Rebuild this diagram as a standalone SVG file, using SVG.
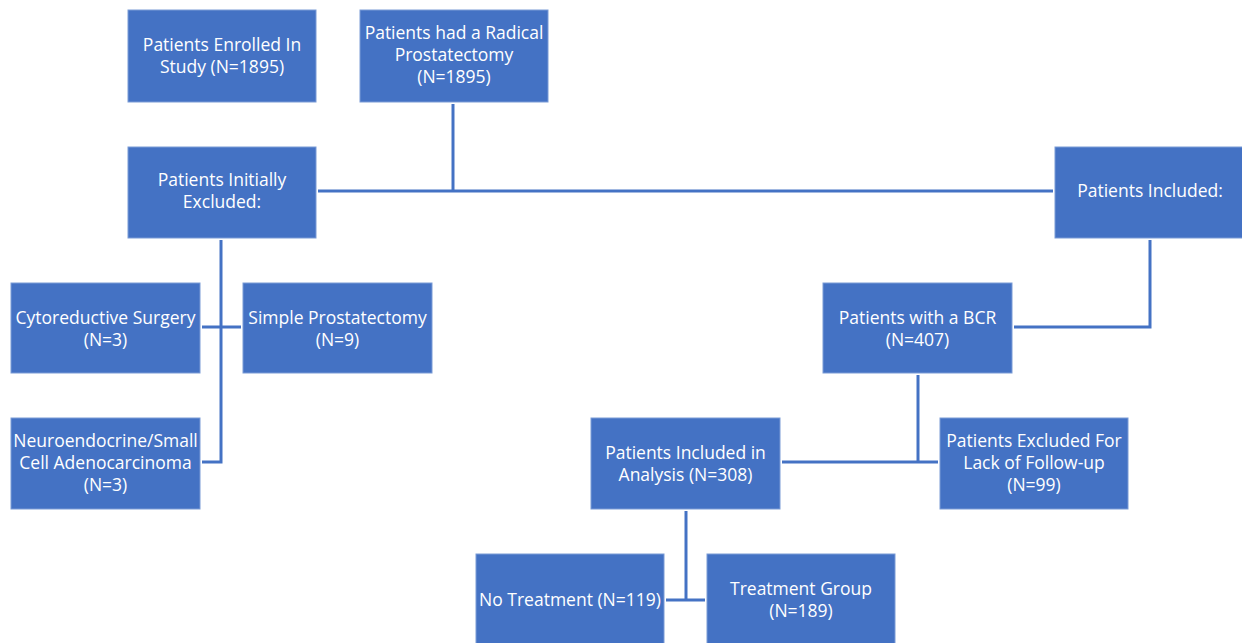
<svg xmlns="http://www.w3.org/2000/svg" width="1242" height="643" viewBox="0 0 1242 643">
<style>
.box{fill:#4472C4;stroke:#7A9BD6;stroke-width:1}
.t{font-family:"Open Sans","Liberation Sans",Arial,sans-serif;font-size:17.5px;fill:#FFFFFF;text-anchor:middle}
.c{fill:none;stroke:#4472C4;stroke-width:3}
</style>
<rect width="1242" height="643" fill="#FFFFFF"/>
<g id="connectors">
<path class="c" d="M453,104 V191"/>
<path class="c" d="M318,191 H1053"/>
<path class="c" d="M221,240 V462 H202"/>
<path class="c" d="M202,327 H241"/>
<path class="c" d="M1150,240 V327 H1014"/>
<path class="c" d="M918,375 V462"/>
<path class="c" d="M782,462 H938"/>
<path class="c" d="M686,511 V600"/>
<path class="c" d="M666,600 H705"/>
</g>
<g id="enrolled"><rect class="box" x="128" y="10" width="188" height="92"/>
<text class="t" x="222" y="51">Patients Enrolled In</text><text class="t" x="222" y="73">Study (N=1895)</text></g>
<g id="radical"><rect class="box" x="360" y="10" width="188" height="92"/>
<text class="t" x="454" y="39">Patients had a Radical</text><text class="t" x="454" y="61">Prostatectomy</text><text class="t" x="454" y="83">(N=1895)</text></g>
<g id="excluded"><rect class="box" x="128" y="147" width="188" height="91"/>
<text class="t" x="222" y="186">Patients Initially</text><text class="t" x="222" y="208">Excluded:</text></g>
<g id="included"><rect class="box" x="1055" y="147" width="190" height="91"/>
<text class="t" x="1150" y="197">Patients Included:</text></g>
<g id="cytoreductive"><rect class="box" x="11" y="283" width="189" height="90"/>
<text class="t" x="105.5" y="324">Cytoreductive Surgery</text><text class="t" x="105.5" y="346">(N=3)</text></g>
<g id="simple"><rect class="box" x="243" y="283" width="189" height="90"/>
<text class="t" x="337.5" y="324">Simple Prostatectomy</text><text class="t" x="337.5" y="346">(N=9)</text></g>
<g id="bcr"><rect class="box" x="823" y="283" width="189" height="90"/>
<text class="t" x="917.5" y="324">Patients with a BCR</text><text class="t" x="917.5" y="346">(N=407)</text></g>
<g id="neuro"><rect class="box" x="11" y="418" width="189" height="91"/>
<text class="t" x="105.5" y="447">Neuroendocrine/Small</text><text class="t" x="105.5" y="469">Cell Adenocarcinoma</text><text class="t" x="105.5" y="491">(N=3)</text></g>
<g id="analysis"><rect class="box" x="591" y="418" width="189" height="91"/>
<text class="t" x="685.5" y="459">Patients Included in</text><text class="t" x="685.5" y="481">Analysis (N=308)</text></g>
<g id="lack"><rect class="box" x="940" y="418" width="188" height="91"/>
<text class="t" x="1034" y="447">Patients Excluded For</text><text class="t" x="1034" y="469">Lack of Follow-up</text><text class="t" x="1034" y="491">(N=99)</text></g>
<g id="notreatment"><rect class="box" x="476" y="554" width="188" height="95"/>
<text class="t" x="570" y="606">No Treatment (N=119)</text></g>
<g id="treatment"><rect class="box" x="707" y="554" width="188" height="95"/>
<text class="t" x="801" y="595">Treatment Group</text><text class="t" x="801" y="617">(N=189)</text></g>
</svg>
